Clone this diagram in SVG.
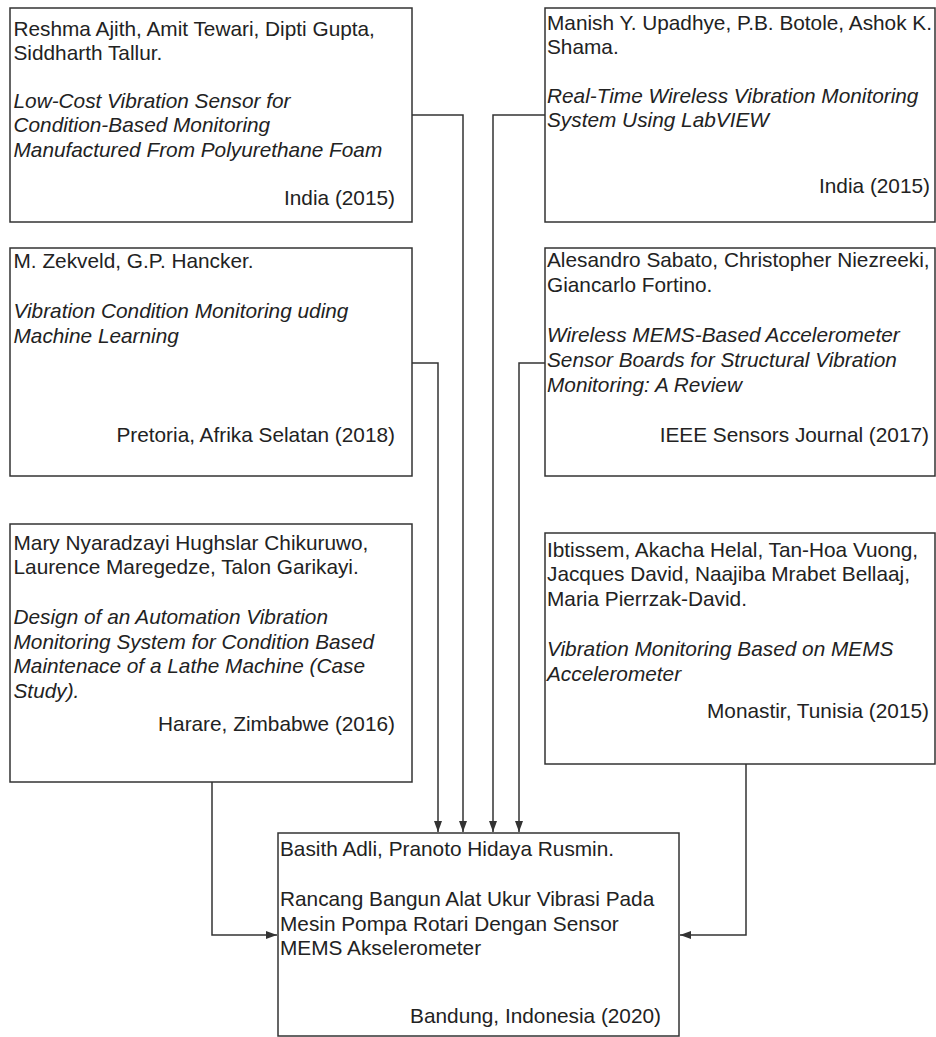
<svg xmlns="http://www.w3.org/2000/svg" width="936" height="1037" viewBox="0 0 936 1037">
<style>
  .box { fill: #ffffff; stroke: #333333; stroke-width: 1.5; }
  .t { font-family: "Liberation Sans", Arial, sans-serif; font-size: 20.8px; fill: #222222; }
  .i { font-style: italic; }
  .r { text-anchor: end; }
  .conn { fill: none; stroke: #333333; stroke-width: 1.5; }
</style>
<defs>
  <marker id="arrow" markerUnits="userSpaceOnUse" markerWidth="12" markerHeight="9" refX="11" refY="4" orient="auto">
    <path d="M0,0 L11,4 L0,8 z" fill="#333333"/>
  </marker>
</defs>
<rect width="936" height="1037" fill="#ffffff"/>
<g id="connectors">
  <polyline class="conn" points="412,115 463,115 463,832" marker-end="url(#arrow)"/>
  <polyline class="conn" points="545,115 493,115 493,832" marker-end="url(#arrow)"/>
  <polyline class="conn" points="412,363 438,363 438,832" marker-end="url(#arrow)"/>
  <polyline class="conn" points="545,363 519,363 519,832" marker-end="url(#arrow)"/>
  <polyline class="conn" points="212,782 212,935 277,935" marker-end="url(#arrow)"/>
  <polyline class="conn" points="746,764 746,935 680,935" marker-end="url(#arrow)"/>
</g>
<g id="n1">
  <rect class="box" x="10" y="8" width="402" height="214"/>
  <text class="t" x="13.5" y="36">Reshma Ajith, Amit Tewari, Dipti Gupta,</text>
  <text class="t" x="13.5" y="60">Siddharth Tallur.</text>
  <text class="t i" x="13.5" y="108">Low-Cost Vibration Sensor for</text>
  <text class="t i" x="13.5" y="132">Condition-Based Monitoring</text>
  <text class="t i" x="13.5" y="157">Manufactured From Polyurethane Foam</text>
  <text class="t r" x="395" y="205">India (2015)</text>
</g>
<g id="n2">
  <rect class="box" x="545" y="8" width="390" height="214"/>
  <text class="t" x="547" y="29.5">Manish Y. Upadhye, P.B. Botole, Ashok K.</text>
  <text class="t" x="547" y="53.5">Shama.</text>
  <text class="t i" x="547" y="102.5">Real-Time Wireless Vibration Monitoring</text>
  <text class="t i" x="547" y="127">System Using LabVIEW</text>
  <text class="t r" x="930" y="193">India (2015)</text>
</g>
<g id="n3">
  <rect class="box" x="10" y="248" width="402" height="228"/>
  <text class="t" x="13.5" y="268">M. Zekveld, G.P. Hancker.</text>
  <text class="t i" x="13.5" y="318">Vibration Condition Monitoring uding</text>
  <text class="t i" x="13.5" y="342.5">Machine Learning</text>
  <text class="t r" x="395" y="441.5">Pretoria, Afrika Selatan (2018)</text>
</g>
<g id="n4">
  <rect class="box" x="545" y="248" width="390" height="228"/>
  <text class="t" x="547" y="266.7">Alesandro Sabato, Christopher Niezreeki,</text>
  <text class="t" x="547" y="291.5">Giancarlo Fortino.</text>
  <text class="t i" x="547" y="341.5">Wireless MEMS-Based Accelerometer</text>
  <text class="t i" x="547" y="366.5">Sensor Boards for Structural Vibration</text>
  <text class="t i" x="547" y="391.5">Monitoring: A Review</text>
  <text class="t r" x="929" y="441.5">IEEE Sensors Journal (2017)</text>
</g>
<g id="n5">
  <rect class="box" x="10" y="524" width="402" height="258"/>
  <text class="t" x="13.5" y="549.5">Mary Nyaradzayi Hughslar Chikuruwo,</text>
  <text class="t" x="13.5" y="573.5">Laurence Maregedze, Talon Garikayi.</text>
  <text class="t i" x="13.5" y="624">Design of an Automation Vibration</text>
  <text class="t i" x="13.5" y="648.5">Monitoring System for Condition Based</text>
  <text class="t i" x="13.5" y="673">Maintenace of a Lathe Machine (Case</text>
  <text class="t i" x="13.5" y="697.5">Study).</text>
  <text class="t r" x="395" y="730.5">Harare, Zimbabwe (2016)</text>
</g>
<g id="n6">
  <rect class="box" x="545" y="533" width="390" height="231"/>
  <text class="t" x="547" y="556.5">Ibtissem, Akacha Helal, Tan-Hoa Vuong,</text>
  <text class="t" x="547" y="581">Jacques David, Naajiba Mrabet Bellaaj,</text>
  <text class="t" x="547" y="606">Maria Pierrzak-David.</text>
  <text class="t i" x="547" y="656">Vibration Monitoring Based on MEMS</text>
  <text class="t i" x="547" y="680.5">Accelerometer</text>
  <text class="t r" x="929" y="717.5">Monastir, Tunisia (2015)</text>
</g>
<g id="n7">
  <rect class="box" x="278" y="833" width="401" height="203"/>
  <text class="t" x="280" y="856">Basith Adli, Pranoto Hidaya Rusmin.</text>
  <text class="t" x="280" y="906">Rancang Bangun Alat Ukur Vibrasi Pada</text>
  <text class="t" x="280" y="930.5">Mesin Pompa Rotari Dengan Sensor</text>
  <text class="t" x="280" y="955">MEMS Akselerometer</text>
  <text class="t r" x="661" y="1023">Bandung, Indonesia (2020)</text>
</g>
</svg>
